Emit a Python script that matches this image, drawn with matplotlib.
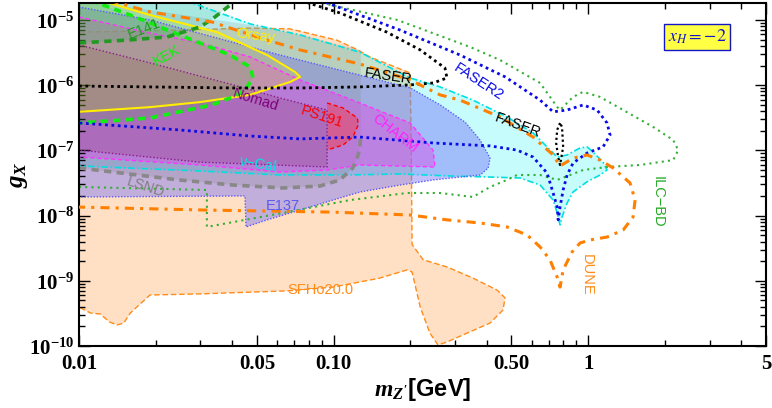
import numpy as np
import matplotlib.pyplot as plt
from matplotlib.ticker import FixedLocator, NullFormatter, LogLocator

plt.rcParams['mathtext.fontset'] = 'custom'
plt.rcParams['mathtext.rm'] = 'Liberation Serif:bold'
plt.rcParams['mathtext.it'] = 'Liberation Serif:italic:bold'
plt.rcParams['mathtext.bf'] = 'Liberation Serif:bold'

# --- limits: m_Z' [GeV] vs g_X ---
sfho_m = [0.0100, 0.0190, 0.0470, 0.0675, 0.103, 0.124, 0.139, 0.200, 0.202, 0.2035, 0.225, 0.279,
          0.353, 0.439, 0.472, 0.463, 0.412, 0.335, 0.279, 0.257, 0.239, 0.219, 0.2035, 0.1945,
          0.152, 0.0995, 0.0657, 0.0299, 0.0190, 0.0159, 0.0150, 0.0141, 0.0132, 0.0121, 0.0111, 0.0100]
sfho_g = [6.5e-6, 6.8e-6, 7.5e-6, 7.3e-6, 4.9e-6, 3.5e-6, 2.7e-6, 1.54e-6, 1.0e-7, 3.6e-9, 2.1e-9, 1.63e-9,
          1.10e-9, 7.2e-10, 5.45e-10, 3.56e-10, 2.25e-10, 1.58e-10, 1.15e-10, 1.04e-10, 1.58e-10, 3.96e-10,
          1.36e-9, 1.47e-9, 1.10e-9, 8.0e-10, 7.0e-10, 6.3e-10, 6.05e-10, 3.2e-10, 2.25e-10, 2.1e-10,
          2.33e-10, 3.1e-10, 3.2e-10, 3.96e-10]

vcal_m = [0.0100, 0.0261, 0.0470, 0.0739, 0.127, 0.200, 0.262, 0.353, 0.480, 0.608, 0.690, 0.756, 0.827,
          0.930, 0.991, 1.046, 1.145, 1.187, 1.115, 0.991, 0.873, 0.827, 0.790, 0.776, 0.756, 0.729, 0.648,
          0.541, 0.412, 0.287, 0.1825, 0.116, 0.0611, 0.0299, 0.0100]
vcal_g = [2.0e-5, 2.0e-5, 8.7e-6, 5.9e-6, 3.2e-6, 1.29e-6, 9.4e-7, 5.9e-7, 3.25e-7, 1.85e-7, 1.13e-7, 7.9e-8,
          8.5e-8, 1.09e-7, 1.13e-7, 9.4e-8, 6.6e-8, 5.0e-8, 4.2e-8, 3.3e-8, 2.3e-8, 1.56e-8, 9.5e-9, 7.2e-9,
          1.10e-8, 1.73e-8, 2.94e-8, 3.77e-8, 3.9e-8, 4.05e-8, 4.35e-8, 4.2e-8, 4.2e-8, 4.83e-8, 5.76e-8]

e137_m = [0.0100, 0.0190, 0.0616, 0.200, 0.262, 0.329, 0.3765, 0.412, 0.405, 0.3765, 0.344, 0.246, 0.1825,
          0.127, 0.0995, 0.0739, 0.0548, 0.0453, 0.0449, 0.0100]
e137_g = [1.58e-5, 1.0e-5, 2.9e-6, 9.1e-7, 5.0e-7, 2.7e-7, 1.44e-7, 7.6e-8, 5.37e-8, 4.19e-8, 4.05e-8, 3.52e-8,
          2.94e-8, 2.3e-8, 1.73e-8, 1.22e-8, 8.6e-9, 6.7e-9, 2.0e-8, 1.93e-8]

lsnd_m = [0.0100, 0.0247, 0.0403, 0.0633, 0.0885, 0.106, 0.119, 0.125, 0.127, 0.128]
lsnd_g = [5.37e-8, 3.52e-8, 2.94e-8, 2.65e-8, 2.84e-8, 3.52e-8, 5.37e-8, 8.5e-8, 1.21e-7, 1.72e-7]
lsnd_top_m = [0.128, 0.0739, 0.0470, 0.0190, 0.0100]
lsnd_top_g = [3.47e-6, 5.9e-6, 8.4e-6, 1.42e-5, 2.0e-5]

charm_m = [0.0100, 0.0190, 0.0299, 0.0470, 0.0739, 0.127, 0.200, 0.246, 0.2505, 0.127, 0.0943, 0.0611, 0.0299, 0.0100]
charm_g = [1.11e-5, 6.3e-6, 4.44e-6, 2.71e-6, 1.20e-6, 5.33e-7, 2.63e-7, 1.01e-7, 5.56e-8, 5.97e-8, 5.0e-8,
           4.66e-8, 5.97e-8, 7.92e-8]

nomad_m = [0.0100, 0.0190, 0.0403, 0.0616, 0.0943, 0.0943, 0.0299, 0.0100]
nomad_g = [4.13e-6, 2.2e-6, 1.01e-6, 6.36e-7, 4.16e-7, 5.56e-8, 6.6e-8, 1.01e-7]

ps191_m = [0.0943, 0.109, 0.124, 0.125, 0.119, 0.109, 0.0943]
ps191_g = [5.33e-7, 4.47e-7, 3.14e-7, 2.45e-7, 1.60e-7, 1.21e-7, 1.01e-7]

orsay_m = [0.0121, 0.0190, 0.0349, 0.0548, 0.0706, 0.0739, 0.0675, 0.0470, 0.0299, 0.0190, 0.0100]
orsay_g = [2.0e-5, 1.19e-5, 6.5e-6, 2.9e-6, 1.59e-6, 1.34e-6, 1.12e-6, 7.1e-7, 5.5e-7, 4.6e-7, 3.9e-7]

kek_m = [0.0111, 0.0159, 0.0266, 0.0392, 0.0470, 0.0483, 0.0449, 0.0403, 0.0333, 0.0190, 0.0132, 0.0100]
kek_g = [2.0e-5, 1.19e-5, 5.3e-6, 2.9e-6, 1.9e-6, 1.29e-6, 8.4e-7, 6.6e-7, 4.97e-7, 3.14e-7, 2.83e-7, 2.63e-7]

e141_m = [0.0100, 0.0157, 0.0222, 0.0299, 0.0342, 0.0414]
e141_g = [4.44e-6, 4.93e-6, 5.48e-6, 7.8e-6, 1.11e-5, 2.0e-5]

faser_m = [0.0100, 0.0190, 0.0403, 0.0739, 0.127, 0.200, 0.246, 0.279, 0.274, 0.219, 0.162, 0.106, 0.0739]
faser_g = [9.7e-7, 9.4e-7, 9.06e-7, 9.06e-7, 9.4e-7, 1.01e-6, 1.08e-6, 1.29e-6, 1.83e-6, 3.47e-6, 6.5e-6, 1.28e-5, 2.0e-5]
faser_loop_m = [0.776, 0.756, 0.749, 0.763, 0.776, 0.798, 0.790, 0.776]
faser_loop_g = [2.63e-7, 2.06e-7, 1.30e-7, 7.9e-8, 5.97e-8, 1.13e-7, 2.29e-7, 2.63e-7]

faser2_m = [0.0885, 0.1825, 0.314, 0.472, 0.648, 0.729, 0.827, 0.956, 1.085, 1.187, 1.22, 1.145, 0.991, 0.873,
            0.827, 0.798, 0.776, 0.763, 0.756, 0.729, 0.690, 0.608, 0.526, 0.412, 0.246, 0.127, 0.0739, 0.0470,
            0.0247, 0.0100]
faser2_g = [2.0e-5, 7.0e-6, 2.9e-6, 1.34e-6, 5.9e-7, 3.9e-7, 4.16e-7, 4.97e-7, 4.16e-7, 2.63e-7, 1.72e-7, 1.13e-7,
            9.1e-8, 6.4e-8, 4.19e-8, 2.47e-8, 1.35e-8, 8.6e-9, 1.35e-8, 2.22e-8, 4.5e-8, 7.9e-8, 1.01e-7, 1.17e-7,
            1.30e-7, 1.60e-7, 1.50e-7, 1.66e-7, 2.06e-7, 2.63e-7]

ilc_m = [0.0809, 0.178, 0.344, 0.451, 0.648, 0.756, 0.776, 0.873, 0.956, 1.115, 1.373, 1.80, 2.16, 2.26, 2.16,
         1.60, 1.187, 0.956, 0.850, 0.756, 0.648, 0.526, 0.480, 0.412, 0.353, 0.262, 0.1945, 0.116, 0.0633,
         0.0318, 0.0318, 0.0100]
ilc_g = [2.0e-5, 1.0e-5, 3.85e-6, 2.43e-6, 1.08e-6, 4.63e-7, 4.16e-7, 6.6e-7, 7.9e-7, 6.6e-7, 4.16e-7, 2.29e-7,
         1.44e-7, 1.01e-7, 7.1e-8, 5.97e-8, 5.56e-8, 5.0e-8, 4.19e-8, 3.52e-8, 4.19e-8, 4.19e-8, 3.52e-8, 2.75e-8,
         1.93e-8, 2.22e-8, 2.22e-8, 1.73e-8, 1.10e-8, 6.7e-9, 2.47e-8, 2.75e-8]

dune_m = [0.0132, 0.0190, 0.0333, 0.0514, 0.0739, 0.127, 0.200, 0.262, 0.314, 0.451, 0.608, 0.729, 0.776, 0.873,
          0.991, 1.115, 1.254, 1.462, 1.530, 1.502, 1.373, 1.187, 1.018, 0.930, 0.865, 0.798, 0.776, 0.756,
          0.709, 0.648, 0.576, 0.480, 0.3765, 0.279, 0.200, 0.0995, 0.0299, 0.0100]
dune_g = [2.0e-5, 1.33e-5, 9.3e-6, 5.3e-6, 3.47e-6, 2.11e-6, 1.20e-6, 7.1e-7, 5.9e-7, 3.25e-7, 1.60e-7, 8.5e-8,
          5.76e-8, 7.6e-8, 8.5e-8, 7.1e-8, 5.37e-8, 3.16e-8, 1.73e-8, 9.5e-9, 6.0e-9, 4.69e-9, 4.23e-9, 3.80e-9,
          2.76e-9, 1.47e-9, 8.0e-10, 1.14e-9, 2.08e-9, 3.30e-9, 5.04e-9, 6.7e-9, 7.7e-9, 8.6e-9, 1.02e-8,
          1.13e-8, 1.22e-8, 1.35e-8]

corner_m, corner_g = 0.0100, 2.0e-5

x_ticks = [0.01, 0.05, 0.1, 0.5, 1, 5]
x_ticklabels = ['0.01', '0.05', '0.10', '0.50', '1', '5']
x_minor = [0.02, 0.03, 0.04, 0.06, 0.07, 0.08, 0.09, 0.2, 0.3, 0.4, 0.6, 0.7, 0.8, 0.9, 2, 3, 4]
y_exps = [-10, -9, -8, -7, -6, -5]

fig = plt.figure(figsize=(7.72, 4.08), dpi=100)
ax = fig.add_axes([79 / 772, 62 / 408, 687 / 772, 343 / 408])

# filled regions (bottom to top)
ax.fill(sfho_m, sfho_g, fc='#FFE0C4', ec='#FF8C1A', lw=1.0, ls=(0, (4, 2)), zorder=1)
ax.fill(vcal_m, vcal_g, fc=(0.0, 0.95, 0.95), alpha=0.22, ec='none', zorder=1.1)
ax.fill(e137_m, e137_g, fc=(0.43, 0.41, 0.98), alpha=0.42, ec='none', zorder=1.2)
ax.fill(lsnd_m + lsnd_top_m, lsnd_g + lsnd_top_g, fc='grey', alpha=0.2, ec='none', zorder=1.3)
ax.fill(charm_m, charm_g, fc=(0.9, 0.25, 0.9), alpha=0.4, ec='none', zorder=1.4)
ax.fill(nomad_m, nomad_g, fc=(0.55, 0.23, 0.43), alpha=0.25, ec='none', zorder=1.5)
ax.fill(ps191_m, ps191_g, fc=(1.0, 0.2, 0.2), alpha=0.4, ec='none', zorder=1.6)
ax.fill(orsay_m + [corner_m], orsay_g + [corner_g], fc=(0.94, 0.94, 0.0), alpha=0.2, ec='none', zorder=1.7)
ax.fill(kek_m + [corner_m], kek_g + [corner_g], fc=(0.24, 0.7, 0.24), alpha=0.17, ec='none', zorder=1.8)
ax.fill(e141_m + [corner_m], e141_g + [corner_g], fc=(0.16, 0.63, 0.47), alpha=0.2, ec='none', zorder=1.9)

# region edges
ax.plot(vcal_m[1:], vcal_g[1:], color='#00E0E0', lw=1.2, ls=(0, (4, 1.5, 1, 1.5)), zorder=2)
ax.plot(e137_m, e137_g, color='#5A5AFF', lw=1.0, ls=(0, (1, 1.2)), zorder=2)
ax.plot(charm_m, charm_g, color='#FF33FF', lw=1.0, ls=(0, (3, 2)), zorder=2)
ax.plot(nomad_m, nomad_g, color='#8B1A8B', lw=1.0, ls=(0, (1, 1.5)), zorder=2)
ax.plot(ps191_m, ps191_g, color='red', lw=1.0, ls=(0, (3, 2)), zorder=2)
ax.plot(lsnd_m, lsnd_g, color='#888888', lw=2.6, ls=(0, (2, 1.5)), zorder=2.1)
ax.plot(orsay_m, orsay_g, color='#FFEE00', lw=1.5, zorder=2.2)
ax.plot(kek_m, kek_g, color='#11EE11', lw=2.6, ls=(0, (2, 1.5)), zorder=2.3)
ax.plot(e141_m, e141_g, color='#229922', lw=2.6, ls=(0, (2, 1.5)), zorder=2.3)

# future sensitivities (lines only)
ax.plot(ilc_m, ilc_g, color='#33B033', lw=1.5, ls=(0, (1, 2)), zorder=2.5)
ax.plot(faser2_m, faser2_g, color='#0A0AE6', lw=2.0, ls=(0, (1, 1.3)), zorder=2.6)
ax.plot(faser_m, faser_g, color='black', lw=2.0, ls=(0, (1, 1.3)), zorder=2.7)
ax.plot(faser_loop_m, faser_loop_g, color='black', lw=1.6, ls=(0, (1, 1.3)), zorder=2.7)
ax.plot(dune_m, dune_g, color='#FF8000', lw=2.2, ls=(0, (3, 2, 1, 2)), zorder=2.8)

# labels on the curves
lab = dict(fontsize=10.5, family='Liberation Sans', ha='center', va='center', zorder=5)
ax.text(0.0180, 7.27e-6, 'E141', color='#229922', rotation=22, **lab)
ax.text(0.0222, 2.81e-6, 'KEK', color='#11EE11', rotation=28, **lab)
ax.text(0.0492, 5.68e-6, 'Orsay', color='#FFEE00', rotation=-8, **lab)
ax.text(0.1637, 1.38e-6, 'FASER', color='black', rotation=-8, **lab)
ax.text(0.3695, 1.12e-6, 'FASER2', color='#0A0AE6', rotation=-33, **lab)
ax.text(0.531, 2.45e-7, 'FASER', color='black', rotation=-20, **lab)
ax.text(0.0496, 5.93e-7, 'Nomad', color='#800080', rotation=-17, **lab)
ax.text(0.0901, 3.25e-7, 'PS191', color='red', rotation=-18, **lab)
ax.text(0.1744, 1.85e-7, 'CHARM', color='#FF22FF', rotation=-38, **lab)
ax.text(0.0505, 6.18e-8, '\u03bd\u2212Cal', color='#00E5E5', rotation=-10, **lab)
ax.text(0.0182, 2.75e-8, 'LSND', color='#808080', rotation=-18, **lab)
ax.text(0.0633, 1.40e-8, 'E137', color='#5A5AEE', rotation=0, **lab)
ax.text(0.0885, 7.23e-10, 'SFHo20.0', color='#FF8C1A', rotation=0, **lab)
ax.text(0.991, 1.23e-9, 'DUNE', color='#FF8C1A', rotation=-90, **lab)
ax.text(1.884, 1.62e-8, 'ILC\u2212BD', color='#22AA22', rotation=-90, **lab)

ax.text(0.8996, 0.9009, r'$x_H=-2$', transform=ax.transAxes, color='#1515C8', fontsize=13,
        math_fontfamily='stix', ha='center', va='center', zorder=6,
        bbox=dict(boxstyle='square,pad=0.22', fc='#FFFF44', ec='#1515C8', lw=1.0))

ax.set_xscale('log')
ax.set_yscale('log')
ax.set_xlim(0.01, 5)
ax.set_ylim(1e-10, 1.82e-5)

ax.set_xticks(x_ticks)
ax.set_xticklabels(x_ticklabels)
ax.xaxis.set_minor_locator(FixedLocator(x_minor))
ax.xaxis.set_minor_formatter(NullFormatter())
ax.set_yticks([10.0 ** e for e in y_exps])
ax.set_yticklabels([r'$10^{%d}$' % e for e in y_exps])
ax.yaxis.set_minor_locator(LogLocator(base=10, subs=np.arange(2, 10), numticks=20))
ax.yaxis.set_minor_formatter(NullFormatter())

ax.tick_params(which='both', direction='in', top=True, right=True, width=1.0)
ax.tick_params(which='major', length=8, labelsize=15)
ax.tick_params(axis='x', which='major', pad=6)
ax.tick_params(which='minor', length=4)
for t in ax.get_xticklabels():
    t.set_fontfamily('Liberation Serif')
    t.set_fontweight('bold')
for s in ax.spines.values():
    s.set_linewidth(1.5)

ax.set_xlabel(r"$m_{Z^{\prime}}$[GeV]", fontsize=17, family='Liberation Sans', fontweight='bold', labelpad=1)
ax.set_ylabel(r'$g_X$', fontsize=18)
ax.yaxis.set_label_coords(-0.072, 0.5)

fig.savefig('out.png', dpi=100)
